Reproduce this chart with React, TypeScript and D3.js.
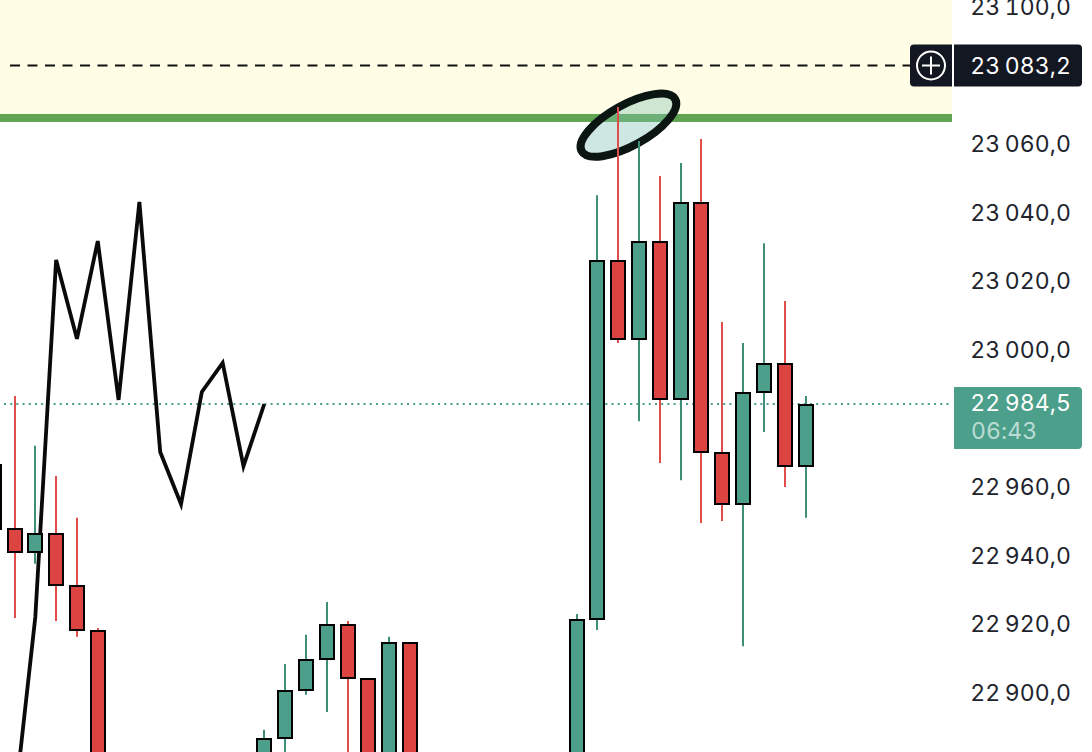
import React from 'react';
import * as d3 from 'd3';

const slots = [-1, 0, 1, 2, 3, 4, 12, 13, 14, 15, 16, 17, 18, 19, 27, 28, 29, 30, 31, 32, 33, 34, 35, 36, 37, 38];
const opens = [22967, 22948.4, 22941.4, 22946.9, 22931.7, 22918.6, 22870, 22887.1, 22901.1, 22910.2, 22920.4, 22904.6, 22870, 22915.1, 22870, 22921.8, 23026.5, 23003.5, 23032, 22986, 23043.4, 22970.5, 22955.3, 22988, 22996.5, 22966.4];
const closes = [22948.1, 22941.4, 22946.9, 22931.7, 22918.6, 22870, 22887.1, 22901.1, 22910.2, 22920.4, 22904.6, 22870, 22915.1, 22870, 22921.8, 23026.5, 23003.5, 23032, 22986, 23043.4, 22970.5, 22955.3, 22988, 22996.5, 22966.4, 22984.5];
const highs = [22967, 22986.8, 22972.3, 22963.5, 22951.3, 22919.2, 22889.5, 22908.7, 22917.2, 22926.8, 22921.2, 22904.6, 22916.6, 22915.1, 22923.3, 23045.4, 23071.1, 23061.2, 23051, 23054.8, 23061.8, 23008.4, 23002.3, 23031.4, 23014.5, 22986.8];
const lows = [22948.1, 22922.1, 22937.9, 22921.2, 22916.6, 22870, 22870, 22875, 22899.7, 22894.7, 22870, 22870, 22870, 22870, 22870, 22918.6, 23002.3, 22979.5, 22967.3, 22962.3, 22949.8, 22950.4, 22913.9, 22976.3, 22960.3, 22951.3];

const lineSlots = [0, 1, 2, 3, 4, 5, 6, 7, 8, 9, 10, 11, 12];
const lineValues = [22867.6, 22922.4, 23026.5, 23003.5, 23032, 22985.7, 23043.4, 22970.5, 22955.3, 22988, 22996.5, 22966.4, 22984.5];

const tickValues = [23100, 23060, 23040, 23020, 23000, 22960, 22940, 22920, 22900];
const crosshairPrice = 23083.2;
const lastPrice = 22984.5;
const countdown = '06:43';
const zonePrice = 23067.9;

const UP = '#4c9f8a';
const DOWN = '#db4441';
const UP_WICK = '#3f8f78';
const DOWN_WICK = '#e04e4b';
const DARK = '#131722';
const FONT = 'Inter, "Noto Sans", sans-serif';

const x = d3.scaleLinear().domain([0, 38]).range([15, 806]);
const y = d3.scaleLinear().domain([22984.5, 23083.2]).range([404, 65.5]);

const fmt = (v: number) => {
  const [a, b] = v.toFixed(1).split('.');
  return `${a.slice(0, 2)}\u2009${a.slice(2)},${b}`;
};

const line = d3
  .line<number>()
  .x((_, i) => x(lineSlots[i]) - 0.5)
  .y((d) => y(d));

const textStyle: React.CSSProperties = { fontVariantNumeric: 'tabular-nums' };

export default function App() {
  const plotW = 952;
  const zoneY = y(zonePrice);
  return (
    <svg
      width={1092}
      height={752}
      style={{ position: 'absolute', left: 0, top: 0, background: '#fff' }}
      fontFamily={FONT}
    >
      <rect x={0} y={0} width={plotW} height={zoneY} fill="#fffde5" />
      <rect x={0} y={zoneY - 4} width={plotW} height={8} fill="#61a553" />

      <line x1={10} x2={910} y1={y(crosshairPrice)} y2={y(crosshairPrice)} stroke="#111" strokeWidth={2} strokeDasharray="10 7.5" />
      <line x1={4} x2={plotW} y1={y(lastPrice)} y2={y(lastPrice)} stroke={UP} strokeWidth={2} strokeDasharray="2 4.2" />

      <path d={line(lineValues) ?? ''} fill="none" stroke="#0a0a0a" strokeWidth={3.8} strokeLinejoin="miter" />

      <ellipse
        cx={x(29.47)}
        cy={y(23065.8)}
        rx={53.5}
        ry={20.5}
        transform={`rotate(-29 ${x(29.47)} ${y(23065.8)})`}
        fill="#7fbfb3"
        fillOpacity={0.38}
        stroke="#0b1512"
        strokeWidth={8}
      />

      {slots.map((s, i) => {
        const up = closes[i] >= opens[i];
        const top = Math.round(y(Math.max(opens[i], closes[i])));
        const bottom = Math.round(y(Math.min(opens[i], closes[i])));
        const cx = Math.floor(x(s));
        return (
          <g key={s}>
            <line x1={cx} x2={cx} y1={y(highs[i])} y2={y(lows[i])} stroke={up ? UP_WICK : DOWN_WICK} strokeWidth={2} />
            <rect
              x={cx - 7}
              y={top + 1}
              width={14}
              height={bottom - top - 1}
              fill={up ? UP : DOWN}
              stroke="#000"
              strokeWidth={2}
            />
          </g>
        );
      })}

      <rect x={plotW} y={0} width={140} height={752} fill="#fff" />

      {tickValues.map((t) => (
        <text key={t} x={1071} y={y(t) + 7} textAnchor="end" fontSize={23} letterSpacing={0.1} fill="#20232c" style={textStyle}>
          {fmt(t)}
        </text>
      ))}

      <path d={`M954 ${y(crosshairPrice) - 21}H1078a4 4 0 0 1 4 4V${y(crosshairPrice) + 17}a4 4 0 0 1 -4 4H954Z`} fill={DARK} />
      <path d={`M952 ${y(crosshairPrice) - 21}H914a4 4 0 0 0 -4 4V${y(crosshairPrice) + 17}a4 4 0 0 0 4 4H952Z`} fill={DARK} />
      <circle cx={931} cy={y(crosshairPrice)} r={14} fill="none" stroke="#fff" strokeWidth={2} />
      <path d={`M922 ${y(crosshairPrice)}H940M931 ${y(crosshairPrice) - 9}V${y(crosshairPrice) + 9}`} stroke="#fff" strokeWidth={2} />
      <text x={1071} y={y(crosshairPrice) + 8} textAnchor="end" fontSize={23} letterSpacing={0.1} fill="#fff" style={textStyle}>
        {fmt(crosshairPrice)}
      </text>

      <path d={`M954 ${y(lastPrice) - 17}H1078a4 4 0 0 1 4 4V${y(lastPrice) + 41}a4 4 0 0 1 -4 4H954Z`} fill={UP} />
      <text x={1071} y={y(lastPrice) + 7} textAnchor="end" fontSize={23} letterSpacing={0.1} fill="#fff" style={textStyle}>
        {fmt(lastPrice)}
      </text>
      <text x={971} y={y(lastPrice) + 35} fontSize={23} letterSpacing={0.1} fill="#b9ddd3" style={textStyle}>
        {countdown}
      </text>
    </svg>
  );
}
